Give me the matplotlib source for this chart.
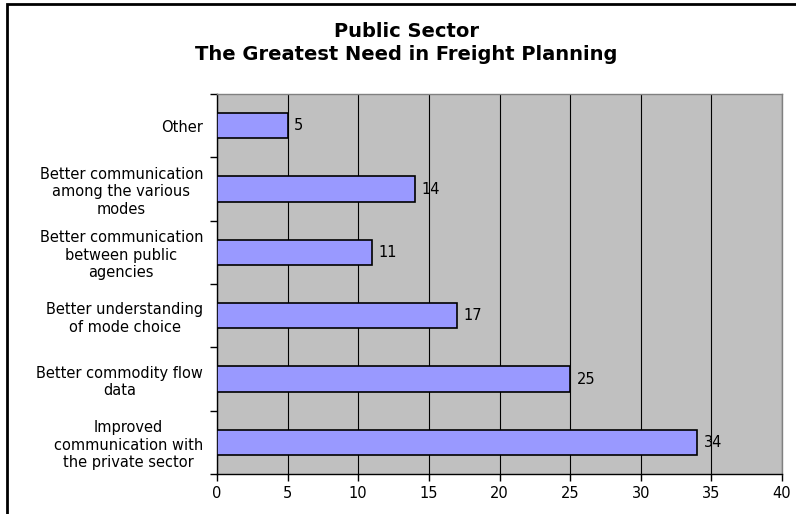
import numpy as np
import matplotlib
matplotlib.use("Agg")
import matplotlib.pyplot as plt
from matplotlib.patches import Rectangle

# data, bottom to top as in the chart
categories = [
    "Improved\ncommunication with\nthe private sector",
    "Better commodity flow\ndata",
    "Better understanding\nof mode choice",
    "Better communication\nbetween public\nagencies",
    "Better communication\namong the various\nmodes",
    "Other",
]
counts = [34, 25, 17, 11, 14, 5]
x_ticks = [0, 5, 10, 15, 20, 25, 30, 35, 40]

title = "Public Sector\nThe Greatest Need in Freight Planning"

fig = plt.figure(figsize=(7.96, 5.14), dpi=100)
ax = fig.add_axes([217 / 796, 1 - 474 / 514, 565 / 796, 380 / 514])

# outer chart border (only left/top visible in the crop)
fig.patches.append(Rectangle((7 / 796, -0.1), 1.2, (514 - 4) / 514 + 0.1,
                             transform=fig.transFigure, fill=False,
                             edgecolor="black", linewidth=2))

y = np.arange(len(categories))
ax.set_facecolor("#C0C0C0")
ax.barh(y, counts, height=0.4, color="#9999FF", edgecolor="black",
        linewidth=1.2, zorder=3)

for yi, v in zip(y, counts):
    ax.text(v + 0.45, yi, str(v), va="center", ha="left", fontsize=10.5,
            color="black", zorder=4)

ax.set_xlim(0, 40)
ax.set_ylim(-0.5, len(categories) - 0.5)
ax.set_xticks(x_ticks)
ax.set_xticklabels([str(t) for t in x_ticks], fontsize=10.5)
ax.xaxis.grid(True, color="black", linewidth=0.8, zorder=1)
ax.set_axisbelow(True)

# category labels centred on bars, ticks on the category borders
ax.set_yticks(y)
ax.set_yticklabels(categories, fontsize=10.5, multialignment="center",
                   linespacing=1.2)
ax.tick_params(axis="y", which="major", length=0, pad=10)
ax.set_yticks(np.arange(-0.5, len(categories), 1), minor=True)
ax.tick_params(axis="y", which="minor", length=5, width=1, color="black",
               direction="out")
ax.tick_params(axis="x", length=5, width=1, direction="out", pad=4)

for side in ("top", "right"):
    ax.spines[side].set_color("#808080")
    ax.spines[side].set_linewidth(1)
for side in ("left", "bottom"):
    ax.spines[side].set_color("black")
    ax.spines[side].set_linewidth(1)

fig.text(406 / 796, 1 - 43 / 514, title, ha="center", va="center",
         fontsize=14, fontweight="bold", linespacing=1.3)

fig.savefig("out.png", dpi=100)
